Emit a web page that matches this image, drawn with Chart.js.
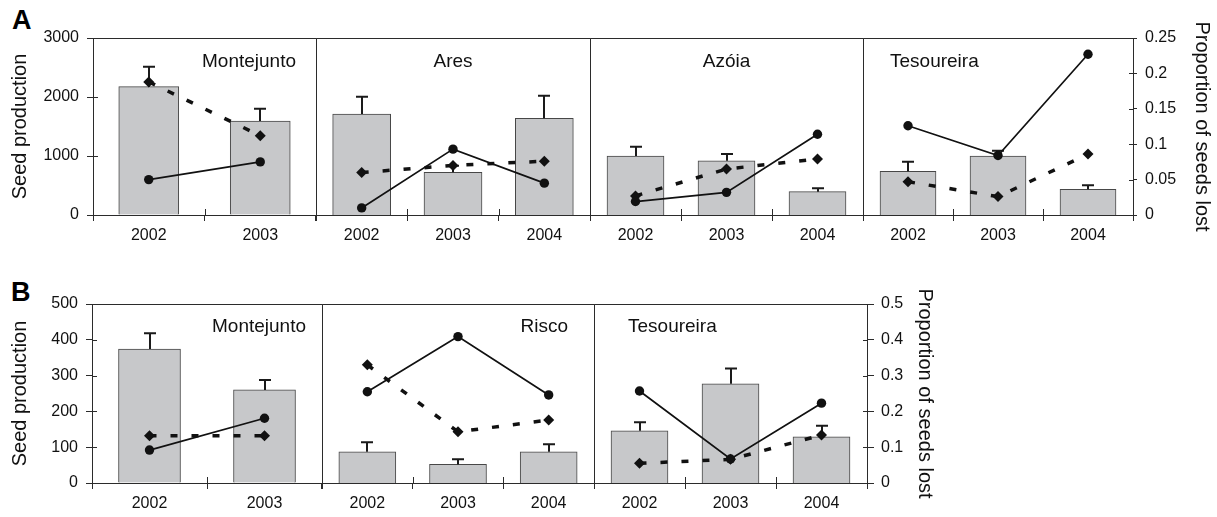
<!DOCTYPE html>
<html>
<head>
<meta charset="utf-8">
<title>Seed production and seed loss</title>
<script src="https://cdn.jsdelivr.net/npm/chart.js@4/dist/chart.umd.min.js"></script>
<style>
  html, body { margin: 0; padding: 0; background: #fff; }
  body { position: relative; width: 1217px; height: 517px; overflow: hidden;
         font-family: "Liberation Sans", Arial, Helvetica, sans-serif; }
  .panel-tag { position: absolute; font-weight: bold; font-size: 27px; line-height: 1; color: #000; }
  canvas { position: absolute; }
</style>
</head>
<body>
<div class="panel-tag" style="left:12px;top:7px">A</div>
<div class="panel-tag" style="left:11px;top:279px">B</div>
<script>
// ---- Panel A: seed production (bars, mean + SE) and proportion of seeds lost (lines)
const sitesA = ['Montejunto', 'Ares', 'Azóia', 'Tesoureira'];
const yearsA = [['2002', '2003'], ['2002', '2003', '2004'], ['2002', '2003', '2004'], ['2002', '2003', '2004']];
const seedA = [[2175, 1593], [1712, 724, 1638], [1000, 920, 395], [740, 1000, 435]];
const seedErrA = [[338, 209], [293, 110, 384], [158, 114, 57], [163, 90, 68]];
const lostCircleA = [[0.050, 0.075], [0.010, 0.093, 0.045], [0.019, 0.032, 0.114], [0.126, 0.084, 0.227]];
const lostDiamondA = [[0.188, 0.112], [0.060, 0.070, 0.076], [0.027, 0.065, 0.079], [0.047, 0.026, 0.086]];
const seedTicksA = [0, 1000, 2000, 3000];
const lostTicksA = [0, 0.05, 0.1, 0.15, 0.2, 0.25];

// ---- Panel B
const sitesB = ['Montejunto', 'Risco', 'Tesoureira'];
const yearsB = [['2002', '2003'], ['2002', '2003', '2004'], ['2002', '2003', '2004']];
const seedB = [[374, 260], [87, 52, 87], [146, 277, 129]];
const seedErrB = [[44, 28], [27, 14, 21], [24, 43, 31]];
const lostCircleB = [[0.092, 0.181], [0.255, 0.409, 0.246], [0.257, 0.067, 0.223]];
const lostDiamondB = [[0.132, 0.132], [0.330, 0.143, 0.176], [0.055, 0.066, 0.134]];
const seedTicksB = [0, 100, 200, 300, 400, 500];
const lostTicksB = [0, 0.1, 0.2, 0.3, 0.4, 0.5];

Chart.defaults.font.family = '"Liberation Sans", Arial, Helvetica, sans-serif';
Chart.defaults.color = '#111';

const INK = '#2b2b2b';

// Box around each site's plot area plus the inward half of the axis ticks
const framePlugin = {
  id: 'frame',
  beforeDatasetsDraw(chart) {
    const { ctx, chartArea: a, scales } = chart;
    const px = v => Math.round(v) + 0.5;
    ctx.save();
    ctx.strokeStyle = INK;
    ctx.lineWidth = 1;
    ctx.beginPath();
    ctx.moveTo(px(a.left), px(a.bottom));
    ctx.lineTo(px(a.left), px(a.top));
    ctx.lineTo(px(a.right), px(a.top));
    ctx.lineTo(px(a.right), px(a.bottom));
    // inward ticks between categories
    const n = chart.data.labels.length;
    for (let k = 1; k < n; k++) {
      const x = px(scales.x.getPixelForValue(k - 0.5));
      ctx.moveTo(x, a.bottom);
      ctx.lineTo(x, a.bottom - 6);
    }
    if (scales.y.options.display) {
      scales.y.ticks.forEach(t => {
        const y = px(scales.y.getPixelForValue(t.value));
        ctx.moveTo(a.left, y);
        ctx.lineTo(a.left + 5, y);
      });
    }
    if (scales.y2.options.display) {
      scales.y2.ticks.forEach(t => {
        const y = px(scales.y2.getPixelForValue(t.value));
        ctx.moveTo(a.right, y);
        ctx.lineTo(a.right - 4, y);
      });
    }
    ctx.stroke();
    ctx.restore();
  }
};

// Upper standard-error whisker on every bar, drawn right after the bars
const errorBarPlugin = {
  id: 'errorBars',
  afterDatasetDraw(chart, args) {
    if (args.index !== 0) return;
    const ds = chart.data.datasets[0];
    const meta = chart.getDatasetMeta(0);
    const yScale = chart.scales.y;
    const { ctx } = chart;
    ctx.save();
    ctx.strokeStyle = '#1a1a1a';
    ctx.lineWidth = 2;
    meta.data.forEach((bar, i) => {
      const top = yScale.getPixelForValue(ds.data[i] + ds.errors[i]);
      const x = Math.round(bar.x);
      ctx.beginPath();
      ctx.moveTo(x, bar.y);
      ctx.lineTo(x, top);
      ctx.moveTo(x - 6, top);
      ctx.lineTo(x + 6, top);
      ctx.stroke();
    });
    ctx.restore();
  }
};

// Site name inside the plot area
const siteLabelPlugin = {
  id: 'siteLabel',
  beforeDatasetsDraw(chart, args, opts) {
    const { ctx, chartArea: a } = chart;
    ctx.save();
    ctx.font = '19px "Liberation Sans", Arial, Helvetica, sans-serif';
    ctx.fillStyle = '#111';
    ctx.textBaseline = 'alphabetic';
    let x;
    if (opts.align === 'left') { ctx.textAlign = 'left'; x = a.left + opts.inset; }
    else if (opts.align === 'right') { ctx.textAlign = 'right'; x = a.right - opts.inset; }
    else { ctx.textAlign = 'center'; x = (a.left + a.right) / 2; }
    ctx.fillText(opts.text, x, a.top + opts.baseline);
    ctx.restore();
  }
};

const fmt = v => String(+Number(v).toFixed(3));

function buildPanel(p) {
  const n = p.sites.length;
  p.sites.forEach((site, i) => {
    const areaL = p.edges[i], areaR = p.edges[i + 1];
    const first = i === 0, last = i === n - 1;
    const leftSpace = first ? areaL : 14;
    const rightSpace = last ? p.rightSpace : 14;
    const canvasLeft = areaL - leftSpace;
    const width = areaR + rightSpace - canvasLeft;
    const height = p.bottom - p.canvasTop + 30;

    const canvas = document.createElement('canvas');
    canvas.width = width;
    canvas.height = height;
    canvas.style.left = canvasLeft + 'px';
    canvas.style.top = p.canvasTop + 'px';
    canvas.style.width = width + 'px';
    canvas.style.height = height + 'px';
    document.body.appendChild(canvas);

    const yOpts = {
      display: first,
      position: 'left',
      min: p.seedTicks[0],
      max: p.seedTicks[p.seedTicks.length - 1],
      afterBuildTicks: s => { s.ticks = p.seedTicks.map(v => ({ value: v })); },
      grid: { drawOnChartArea: false, tickLength: 6, color: INK },
      border: { display: true, color: INK },
      ticks: { font: { size: 16 }, color: '#111', padding: 8, callback: v => String(v) },
      title: { display: true, text: 'Seed production', font: { size: 20 }, color: '#111', padding: { top: 8.5, bottom: 0 } }
    };
    if (first) yOpts.afterFit = s => { s.width = areaL; };

    const y2Opts = {
      display: last,
      position: 'right',
      min: p.lostTicks[0],
      max: p.lostTicks[p.lostTicks.length - 1],
      afterBuildTicks: s => { s.ticks = p.lostTicks.map(v => ({ value: v })); },
      grid: { drawOnChartArea: false, tickLength: p.rightTick, color: INK },
      border: { display: true, color: INK },
      ticks: { font: { size: 16 }, color: '#111', padding: p.rightPad, callback: fmt },
      title: { display: true, text: 'Proportion of seeds lost', font: { size: 20 }, color: '#111', padding: { top: 3, bottom: 0 } }
    };
    if (last) y2Opts.afterFit = s => { s.width = rightSpace; };

    new Chart(canvas, {
      type: 'bar',
      data: {
        labels: p.years[i],
        datasets: [
          {
            type: 'bar', label: 'Seed production', yAxisID: 'y',
            data: p.seed[i], errors: p.err[i],
            backgroundColor: '#c7c8ca', borderColor: '#474747', borderWidth: 1,
            barThickness: p.barWidth[i], order: 3
          },
          {
            type: 'line', label: 'Proportion lost (circles)', yAxisID: 'y2',
            data: p.circle[i],
            borderColor: '#111', borderWidth: 1.7,
            pointStyle: 'circle', pointRadius: 4.7, pointBackgroundColor: '#111', pointBorderWidth: 0,
            order: 1
          },
          {
            type: 'line', label: 'Proportion lost (diamonds)', yAxisID: 'y2',
            data: p.diamond[i],
            borderColor: '#111', borderWidth: 3.5, borderDash: [7, 14],
            pointStyle: 'rectRot', pointRadius: 5.5, pointBackgroundColor: '#111', pointBorderWidth: 0,
            order: 2
          }
        ]
      },
      options: {
        responsive: false,
        animation: false,
        devicePixelRatio: 1,
        layout: { padding: { left: first ? 0 : 14, right: last ? 0 : 14, top: p.top - p.canvasTop, bottom: 0 } },
        plugins: {
          legend: { display: false },
          tooltip: { enabled: false },
          siteLabel: { text: site, align: p.labelPlace[i][0], inset: p.labelPlace[i][1], baseline: p.labelBaseline }
        },
        scales: {
          x: {
            type: 'category',
            offset: true,
            grid: { offset: true, drawOnChartArea: false, tickLength: 6, color: INK },
            border: { display: true, color: INK },
            ticks: { font: { size: 16 }, color: '#111', padding: 5, maxRotation: 0, autoSkip: false },
            afterFit: s => { s.height = 30; }
          },
          y: yOpts,
          y2: y2Opts
        }
      },
      plugins: [framePlugin, errorBarPlugin, siteLabelPlugin]
    });
  });
}

buildPanel({
  sites: sitesA, years: yearsA, seed: seedA, err: seedErrA,
  circle: lostCircleA, diamond: lostDiamondA,
  seedTicks: seedTicksA, lostTicks: lostTicksA,
  edges: [93, 316, 590, 863, 1133], canvasTop: 0, top: 38, bottom: 215,
  labelPlace: [['right', 20], ['center', 0], ['center', 0], ['left', 27]], labelBaseline: 29,
  barWidth: [60, 58, 57, 56], rightTick: 4, rightPad: 8, rightSpace: 84
});

buildPanel({
  sites: sitesB, years: yearsB, seed: seedB, err: seedErrB,
  circle: lostCircleB, diamond: lostDiamondB,
  seedTicks: seedTicksB, lostTicks: lostTicksB,
  edges: [92, 322, 594, 867], canvasTop: 258, top: 304, bottom: 483,
  labelPlace: [['right', 16], ['right', 26], ['left', 34]], labelBaseline: 28,
  barWidth: [62, 57, 57], rightTick: 7, rightPad: 7, rightSpace: 73
});
</script>
</body>
</html>
